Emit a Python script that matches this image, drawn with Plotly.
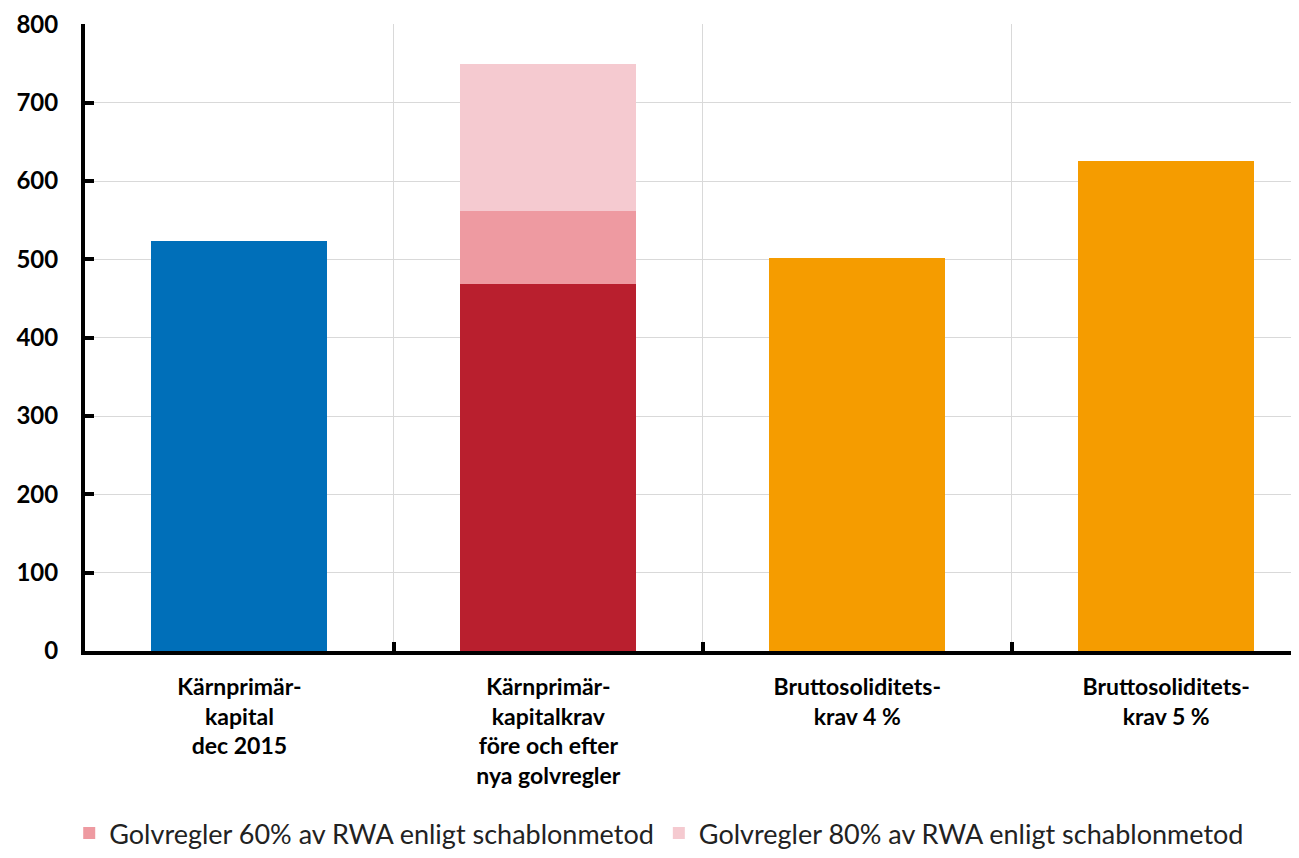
import plotly.graph_objects as go

categories = ["Kärnprimär-<br>kapital<br>dec 2015",
              "Kärnprimär-<br>kapitalkrav<br>före och efter<br>nya golvregler",
              "Bruttosoliditets-<br>krav 4 %",
              "Bruttosoliditets-<br>krav 5 %"]
x_pos = [0, 1, 2, 3]

karn_kapital = [523, None, None, None]
karn_krav = [None, 468, None, None]
golv60 = [None, 94, None, None]
golv80 = [None, 188, None, None]
brutto = [None, None, 502, 626]

fig = go.Figure()
w = 0.57
fig.add_bar(x=x_pos, y=karn_kapital, marker_color="#006FB9", width=w, showlegend=False, name="Kärnprimärkapital")
fig.add_bar(x=x_pos, y=karn_krav, marker_color="#B91F2E", width=w, showlegend=False, name="Kärnprimärkapitalkrav")
fig.add_bar(x=x_pos, y=golv60, marker_color="#EE9AA1", width=w,
            name="Golvregler 60% av RWA enligt schablonmetod")
fig.add_bar(x=x_pos, y=golv80, marker_color="#F5CAD0", width=w,
            name="Golvregler 80% av RWA enligt schablonmetod")
fig.add_bar(x=x_pos, y=brutto, marker_color="#F59C00", width=w, showlegend=False, name="Bruttosoliditetskrav")
for t in fig.data:
    t.marker.line.width = 0

fig.update_layout(
    barmode="stack",
    width=1291, height=850,
    margin=dict(l=77, r=0, t=16, b=202),
    plot_bgcolor="white", paper_bgcolor="white",
    font=dict(family="Lato, Open Sans, sans-serif", color="black"),
    legend=dict(orientation="h", x=0.473, xanchor="center", y=-0.291, yanchor="middle",
                font=dict(size=27, family="Lato, sans-serif", color="#222"),
                itemwidth=30, traceorder="normal"),
    bargap=0,
)
fig.update_xaxes(
    range=[-0.5, 3.43], automargin=False,
    tickmode="array", tickvals=x_pos, ticktext=categories,
    tickfont=dict(size=23, family="Lato", color="black", weight="bold"),
    showgrid=False, ticks="", ticklabelstandoff=12,
    showline=True, linecolor="black", linewidth=4,
    minor=dict(tickmode="array", tickvals=[0.5, 1.5, 2.5], showgrid=True, gridcolor="#d9d9d9",
               gridwidth=1, ticks="inside", ticklen=9, tickwidth=4, tickcolor="black"),
    zeroline=False,
)
fig.update_yaxes(
    range=[0, 800.5], automargin=False, ticklabeloverflow="allow",
    tickmode="array", tickvals=[0, 100, 200, 300, 400, 500, 600, 700, 800],
    tickfont=dict(size=24, family="Lato", color="black", weight="bold"),
    showgrid=True, gridcolor="#d9d9d9", gridwidth=1,
    showline=True, linecolor="black", linewidth=4,
    ticks="inside", ticklen=9, tickwidth=4, tickcolor="black",
    zeroline=False, ticklabelstandoff=18,
)

fig.write_html("out.html")
